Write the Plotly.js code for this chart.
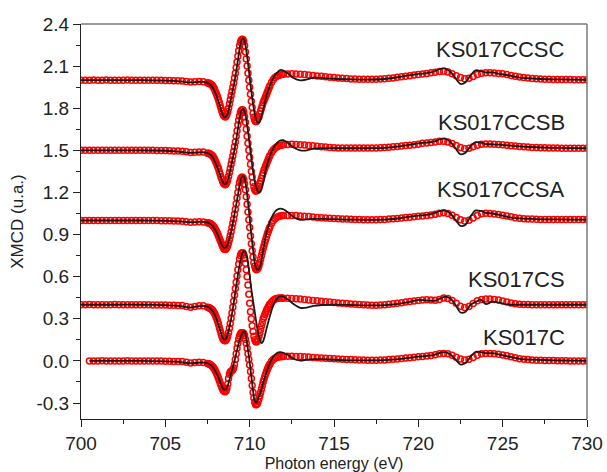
<!DOCTYPE html>
<html>
<head>
<meta charset="utf-8">
<script src="https://cdn.plot.ly/plotly-3.0.1.min.js"></script>
<style>
html,body{margin:0;padding:0;background:#fff;}
#chart{width:607px;height:472px;}
</style>
</head>
<body>
<div id="chart"></div>
<script>
// ---------- DATA ----------
const samples = ['KS017C', 'KS017CS', 'KS017CCSA', 'KS017CCSB', 'KS017CCSC'];
const offsets = [0.0, 0.4, 1.0, 1.5, 2.0];

// energy grid of the simulated (black) curves, eV
const simEnergy = [
  700, 700.5, 702, 703.5, 705, 705.5, 706, 706.5, 707, 707.3, 707.6, 707.8,
  708.0, 708.1, 708.2, 708.3, 708.4, 708.5, 708.6, 708.7, 708.8, 708.9,
  709.0, 709.1, 709.2, 709.3, 709.4, 709.5, 709.6, 709.7, 709.8, 709.9,
  710.0, 710.1, 710.2, 710.3, 710.4, 710.5, 710.6, 710.7, 710.8, 710.9,
  711.0, 711.2, 711.4, 711.6, 711.8, 712.0, 712.3, 712.6, 713.0, 713.4, 713.8, 714.3,
  715, 716, 717, 718, 719, 719.5, 720, 720.5, 721, 721.3, 721.6, 721.9,
  722.2, 722.5, 722.8, 723.1, 723.4, 723.7, 724.0, 724.4, 724.8, 725.3, 726, 727, 728, 729, 730
];

// simulated XMCD (black lines), relative to each offset
const simC = [
  null, 0, 0, 0, -0.003, -0.005, -0.01, -0.018, -0.013, -0.012, -0.022, -0.042,
  -0.08, -0.105, -0.135, -0.165, -0.195, -0.207, -0.2, -0.175, -0.135, -0.09,
  -0.045, 0, 0.05, 0.1, 0.145, 0.18, 0.205, 0.21, 0.16, 0.08,
  -0.01, -0.11, -0.21, -0.285, -0.298, -0.27, -0.24, -0.2, -0.16, -0.12,
  -0.08, -0.015, 0.03, 0.055, 0.062, 0.058, 0.04, 0.015, 0.002, 0.008, 0.012, 0.012,
  0.008, 0.004, 0.004, 0.006, 0.015, 0.022, 0.03, 0.035, 0.045, 0.058, 0.062, 0.045,
  0.01, -0.026, -0.015, 0.03, 0.065, 0.062, 0.055, 0.055, 0.045, 0.032, 0.015, 0.008, 0.004, 0.002, 0
];
const simCS = [
  0, 0, 0, 0, -0.003, -0.006, -0.012, -0.02, -0.01, -0.008, -0.02, -0.045,
  -0.09, -0.125, -0.16, -0.2, -0.235, -0.249, -0.24, -0.21, -0.16, -0.1,
  -0.03, 0.05, 0.13, 0.21, 0.28, 0.34, 0.375, 0.384, 0.36, 0.3,
  0.21, 0.11, 0.03, -0.05, -0.13, -0.2, -0.25, -0.274, -0.26, -0.22,
  -0.17, -0.08, -0.005, 0.04, 0.06, 0.058, 0.035, 0.005, -0.022, -0.02, -0.008, -0.002,
  0, -0.002, -0.004, -0.003, 0.01, 0.02, 0.035, 0.03, 0.028, 0.045, 0.058, 0.045,
  0, -0.055, -0.05, 0, 0.02, 0.036, 0.005, 0.022, 0.015, 0.002, 0, 0, 0, 0, 0
];
const simCCSA = [
  0, 0, 0, 0, -0.002, -0.004, -0.008, -0.012, -0.01, -0.01, -0.02, -0.04,
  -0.075, -0.1, -0.13, -0.16, -0.185, -0.195, -0.19, -0.17, -0.13, -0.08,
  -0.02, 0.045, 0.11, 0.18, 0.25, 0.3, 0.32, 0.3, 0.23, 0.13,
  0.02, -0.1, -0.21, -0.3, -0.345, -0.35, -0.33, -0.28, -0.21, -0.15,
  -0.09, -0.01, 0.045, 0.075, 0.085, 0.08, 0.055, 0.025, 0.005, 0.008, 0.012, 0.012,
  0.01, 0.006, 0.005, 0.007, 0.018, 0.028, 0.035, 0.04, 0.055, 0.068, 0.07, 0.05,
  0.005, -0.038, -0.03, 0.03, 0.072, 0.068, 0.055, 0.05, 0.04, 0.025, 0.015, 0.01, 0.008, 0.007, 0.007
];
const simCCSB = [
  0, 0, 0, 0, -0.003, -0.006, -0.012, -0.018, -0.014, -0.014, -0.025, -0.048,
  -0.095, -0.125, -0.16, -0.195, -0.225, -0.242, -0.237, -0.215, -0.17, -0.115,
  -0.055, 0.005, 0.07, 0.15, 0.225, 0.28, 0.297, 0.28, 0.22, 0.135,
  0.04, -0.06, -0.15, -0.22, -0.27, -0.295, -0.3, -0.28, -0.23, -0.17,
  -0.115, -0.04, 0.015, 0.05, 0.07, 0.072, 0.05, 0.02, 0.0, 0.0, 0.012, 0.015,
  0.015, 0.015, 0.015, 0.018, 0.03, 0.04, 0.05, 0.055, 0.065, 0.08, 0.083, 0.06,
  0.015, -0.028, -0.018, 0.03, 0.058, 0.055, 0.045, 0.043, 0.04, 0.035, 0.028, 0.022, 0.018, 0.016, 0.015
];
const simCCSC = [
  0, 0, 0, 0, -0.003, -0.005, -0.01, -0.016, -0.012, -0.013, -0.025, -0.05,
  -0.1, -0.135, -0.17, -0.21, -0.245, -0.264, -0.258, -0.24, -0.19, -0.13,
  -0.07, -0.01, 0.06, 0.14, 0.22, 0.28, 0.3, 0.28, 0.21, 0.12,
  0.02, -0.08, -0.17, -0.24, -0.29, -0.305, -0.295, -0.26, -0.21, -0.16,
  -0.11, -0.04, 0.015, 0.05, 0.072, 0.068, 0.045, 0.015, -0.002, 0.005, 0.018, 0.016,
  0.01, 0.006, 0.004, 0.008, 0.025, 0.035, 0.045, 0.05, 0.065, 0.08, 0.082, 0.06,
  0.015, -0.027, -0.015, 0.035, 0.07, 0.065, 0.055, 0.055, 0.045, 0.035, 0.018, 0.01, 0.006, 0.004, 0.003
];

// energy grid of the measured (red) data, eV
const expEnergy = [
  700, 700.25, 700.5, 700.75, 701, 701.25, 701.5, 701.75,
  702, 702.25, 702.5, 702.75, 703, 703.25, 703.5, 703.75,
  704, 704.25, 704.5, 704.75, 705, 705.25, 705.5, 705.75,
  706, 706.25, 706.5, 706.75, 707, 707.25, 707.5,
  707.55, 707.6, 707.65, 707.7, 707.75, 707.8, 707.85, 707.9, 707.95, 708,
  708.05, 708.1, 708.15, 708.2, 708.25, 708.3, 708.35, 708.4, 708.45, 708.5,
  708.55, 708.6, 708.65, 708.7, 708.75, 708.8, 708.85, 708.9, 708.95, 709,
  709.05, 709.1, 709.15, 709.2, 709.25, 709.3, 709.35, 709.4, 709.45, 709.5,
  709.55, 709.6, 709.65, 709.7, 709.75, 709.8, 709.85, 709.9, 709.95, 710,
  710.05, 710.1, 710.15, 710.2, 710.25, 710.3, 710.35, 710.4, 710.45, 710.5,
  710.55, 710.6, 710.65, 710.7, 710.75, 710.8, 710.85, 710.9, 710.95, 711,
  711.05, 711.1, 711.15, 711.2,
  711.3, 711.4, 711.5, 711.6, 711.7, 711.8, 711.9, 712,
  712.25, 712.5, 712.75, 713, 713.25, 713.5, 713.75, 714,
  714.25, 714.5, 714.75, 715, 715.25, 715.5, 715.75, 716,
  716.25, 716.5, 716.75, 717, 717.25, 717.5, 717.75, 718,
  718.25, 718.5, 718.75, 719, 719.25, 719.5, 719.75, 720,
  720.25, 720.5, 720.75, 721, 721.25, 721.5, 721.75, 722,
  722.25, 722.5, 722.75, 723, 723.25, 723.5, 723.75, 724,
  724.25, 724.5, 724.75, 725, 725.25, 725.5, 725.75, 726,
  726.25, 726.5, 726.75, 727, 727.25, 727.5, 727.75, 728,
  728.25, 728.5, 728.75, 729, 729.25, 729.5, 729.75, 730
];

// measured XMCD (red open circles), relative to each offset
const expC = [
  null, null, 0, 0, 0, 0.001, 0, 0,
  0, 0, 0, 0.001, 0, 0, 0, 0,
  0, 0, -0.001, -0.001, -0.002, -0.003, -0.004, -0.005,
  -0.005, -0.01, -0.015, -0.012, -0.01, -0.011, -0.018,
  -0.02, -0.022, -0.025, -0.029, -0.034, -0.04, -0.047, -0.056, -0.067, -0.08,
  -0.094, -0.108, -0.124, -0.14, -0.157, -0.174, -0.19, -0.203, -0.213, -0.218,
  -0.219, -0.212, -0.195, -0.165, -0.125, -0.095, -0.08, -0.073, -0.07, -0.064,
  -0.05, -0.025, 0.01, 0.05, 0.09, 0.125, 0.155, 0.178, 0.192, 0.2,
  0.2, 0.2, 0.195, 0.18, 0.155, 0.125, 0.09, 0.05, 0.01, -0.03,
  -0.075, -0.125, -0.175, -0.225, -0.265, -0.295, -0.31, -0.312, -0.305, -0.29,
  -0.27, -0.25, -0.225, -0.2, -0.175, -0.15, -0.13, -0.11, -0.092, -0.076,
  -0.06, -0.046, -0.033, -0.022,
  -0.003, 0.01, 0.018, 0.024, 0.028, 0.03, 0.031, 0.032,
  0.033, 0.033, 0.032, 0.031, 0.029, 0.027, 0.025, 0.023,
  0.021, 0.019, 0.017, 0.015, 0.013, 0.011, 0.01, 0.009,
  0.008, 0.007, 0.006, 0.005, 0.005, 0.005, 0.006, 0.007,
  0.009, 0.011, 0.014, 0.017, 0.02, 0.023, 0.026, 0.029,
  0.032, 0.035, 0.039, 0.044, 0.05, 0.053, 0.05, 0.04,
  0.026, 0.013, 0.007, 0.012, 0.025, 0.04, 0.05, 0.053,
  0.053, 0.051, 0.047, 0.042, 0.036, 0.029, 0.022, 0.016,
  0.012, 0.009, 0.007, 0.005, 0.004, 0.003, 0.002, 0.002,
  0.001, 0.001, 0.001, 0, 0, 0, 0, 0
];
const expCS = [
  0, 0, 0.001, 0, 0, 0, 0, 0,
  0.001, 0, 0, 0, 0, 0, 0, 0,
  0, -0.001, -0.001, -0.002, -0.002, -0.003, -0.004, -0.005,
  -0.006, -0.012, -0.018, -0.012, -0.008, -0.008, -0.018,
  -0.02, -0.022, -0.025, -0.029, -0.034, -0.04, -0.048, -0.058, -0.07, -0.085,
  -0.1, -0.118, -0.138, -0.16, -0.182, -0.204, -0.224, -0.24, -0.25, -0.255,
  -0.256, -0.252, -0.24, -0.222, -0.198, -0.168, -0.134, -0.097, -0.058, -0.018,
  0.025, 0.07, 0.115, 0.16, 0.205, 0.25, 0.29, 0.325, 0.35, 0.365,
  0.37, 0.368, 0.355, 0.33, 0.295, 0.25, 0.2, 0.14, 0.075, 0.01,
  -0.05, -0.1, -0.15, -0.19, -0.225, -0.25, -0.262, -0.265, -0.26, -0.245,
  -0.225, -0.2, -0.175, -0.15, -0.125, -0.1, -0.085, -0.07, -0.055, -0.04,
  -0.028, -0.016, -0.005, 0.005,
  0.02, 0.032, 0.04, 0.045, 0.047, 0.048, 0.048, 0.047,
  0.046, 0.044, 0.042, 0.04, 0.037, 0.034, 0.031, 0.028,
  0.025, 0.022, 0.019, 0.016, 0.013, 0.01, 0.008, 0.006,
  0.004, 0.002, 0, -0.002, -0.003, -0.003, -0.002, 0,
  0.003, 0.007, 0.011, 0.015, 0.019, 0.023, 0.027, 0.031,
  0.034, 0.035, 0.033, 0.032, 0.038, 0.048, 0.045, 0.03,
  0.01, -0.01, -0.02, -0.012, 0.008, 0.028, 0.038, 0.04,
  0.04, 0.038, 0.033, 0.026, 0.019, 0.012, 0.007, 0.004,
  0.002, 0.001, 0, 0, 0, 0, 0, 0,
  0, 0, 0, 0, 0, 0, 0, 0
];
const expCCSA = [
  0, 0, 0, 0, 0, 0.001, 0, 0,
  0, 0, 0, 0, 0.001, 0, 0, 0,
  0, 0, 0, -0.001, -0.001, -0.002, -0.003, -0.004,
  -0.005, -0.008, -0.012, -0.01, -0.009, -0.01, -0.016,
  -0.017, -0.019, -0.021, -0.024, -0.028, -0.033, -0.04, -0.048, -0.058, -0.07,
  -0.082, -0.095, -0.11, -0.125, -0.14, -0.155, -0.17, -0.185, -0.197, -0.205,
  -0.207, -0.203, -0.193, -0.178, -0.158, -0.135, -0.108, -0.08, -0.05, -0.02,
  0.01, 0.045, 0.08, 0.12, 0.16, 0.2, 0.24, 0.27, 0.29, 0.305,
  0.31, 0.305, 0.29, 0.26, 0.22, 0.17, 0.115, 0.06, 0.005, -0.05,
  -0.11, -0.165, -0.215, -0.26, -0.3, -0.325, -0.343, -0.35, -0.348, -0.338,
  -0.322, -0.3, -0.275, -0.25, -0.225, -0.2, -0.178, -0.155, -0.135, -0.115,
  -0.095, -0.078, -0.062, -0.047,
  -0.02, 0, 0.013, 0.022, 0.028, 0.032, 0.034, 0.035,
  0.036, 0.036, 0.035, 0.033, 0.031, 0.028, 0.025, 0.022,
  0.02, 0.018, 0.016, 0.014, 0.012, 0.011, 0.01, 0.009,
  0.008, 0.007, 0.006, 0.006, 0.006, 0.006, 0.007, 0.008,
  0.01, 0.012, 0.015, 0.018, 0.021, 0.024, 0.027, 0.03,
  0.033, 0.036, 0.04, 0.045, 0.052, 0.055, 0.05, 0.038,
  0.022, 0.006, -0.004, 0.002, 0.018, 0.036, 0.048, 0.052,
  0.05, 0.047, 0.043, 0.038, 0.032, 0.026, 0.02, 0.016,
  0.013, 0.011, 0.01, 0.009, 0.008, 0.008, 0.007, 0.007,
  0.007, 0.007, 0.007, 0.007, 0.007, 0.007, 0.007, 0.007
];
const expCCSB = [
  0, 0, 0, 0, 0.001, 0, 0, 0,
  0, 0.001, 0, 0, 0, 0, 0, 0,
  0, 0, -0.001, -0.001, -0.002, -0.003, -0.004, -0.005,
  -0.006, -0.01, -0.015, -0.013, -0.011, -0.012, -0.02,
  -0.021, -0.023, -0.026, -0.03, -0.035, -0.04, -0.048, -0.058, -0.07, -0.085,
  -0.1, -0.115, -0.13, -0.15, -0.17, -0.19, -0.205, -0.222, -0.235, -0.242,
  -0.245, -0.24, -0.228, -0.21, -0.185, -0.158, -0.13, -0.1, -0.07, -0.04,
  -0.008, 0.025, 0.06, 0.1, 0.14, 0.18, 0.215, 0.245, 0.27, 0.283,
  0.29, 0.288, 0.272, 0.24, 0.2, 0.15, 0.1, 0.05, 0, -0.05,
  -0.1, -0.15, -0.19, -0.23, -0.26, -0.28, -0.29, -0.29, -0.282, -0.27,
  -0.255, -0.238, -0.22, -0.2, -0.18, -0.16, -0.14, -0.125, -0.11, -0.095,
  -0.08, -0.065, -0.05, -0.037,
  -0.015, 0.003, 0.015, 0.024, 0.03, 0.035, 0.038, 0.04,
  0.042, 0.043, 0.042, 0.04, 0.038, 0.035, 0.032, 0.029,
  0.026, 0.023, 0.02, 0.018, 0.017, 0.016, 0.016, 0.016,
  0.016, 0.016, 0.016, 0.016, 0.016, 0.017, 0.018, 0.02,
  0.022, 0.025, 0.028, 0.031, 0.034, 0.037, 0.04, 0.044,
  0.05, 0.053, 0.056, 0.06, 0.064, 0.065, 0.06, 0.048,
  0.034, 0.02, 0.012, 0.015, 0.025, 0.037, 0.044, 0.046,
  0.046, 0.044, 0.042, 0.039, 0.036, 0.033, 0.03, 0.027,
  0.025, 0.023, 0.021, 0.02, 0.019, 0.018, 0.017, 0.016,
  0.016, 0.015, 0.015, 0.015, 0.014, 0.014, 0.014, 0.014
];
const expCCSC = [
  0, 0, 0, 0.001, 0, 0, 0.001, 0,
  0, 0, 0, 0.001, 0, 0, 0, 0,
  0, 0, -0.001, -0.001, -0.002, -0.003, -0.004, -0.005,
  -0.006, -0.01, -0.014, -0.012, -0.01, -0.012, -0.02,
  -0.02, -0.022, -0.025, -0.03, -0.035, -0.04, -0.05, -0.06, -0.075, -0.09,
  -0.105, -0.12, -0.14, -0.16, -0.18, -0.2, -0.22, -0.238, -0.25, -0.258,
  -0.262, -0.258, -0.245, -0.225, -0.2, -0.17, -0.14, -0.11, -0.08, -0.05,
  -0.02, 0.015, 0.05, 0.09, 0.13, 0.17, 0.21, 0.245, 0.27, 0.285,
  0.292, 0.29, 0.275, 0.245, 0.2, 0.15, 0.1, 0.05, 0, -0.05,
  -0.1, -0.15, -0.195, -0.235, -0.265, -0.285, -0.295, -0.295, -0.285, -0.27,
  -0.26, -0.24, -0.22, -0.2, -0.18, -0.16, -0.145, -0.13, -0.115, -0.1,
  -0.085, -0.07, -0.055, -0.04,
  -0.015, 0.005, 0.018, 0.027, 0.033, 0.037, 0.04, 0.042,
  0.044, 0.045, 0.044, 0.042, 0.04, 0.037, 0.034, 0.03,
  0.027, 0.024, 0.021, 0.018, 0.015, 0.013, 0.011, 0.009,
  0.008, 0.007, 0.006, 0.006, 0.006, 0.007, 0.008, 0.01,
  0.013, 0.016, 0.02, 0.024, 0.028, 0.032, 0.036, 0.04,
  0.043, 0.047, 0.052, 0.056, 0.062, 0.063, 0.058, 0.046,
  0.032, 0.018, 0.01, 0.014, 0.026, 0.041, 0.05, 0.052,
  0.053, 0.051, 0.048, 0.045, 0.04, 0.034, 0.028, 0.022,
  0.018, 0.015, 0.012, 0.01, 0.008, 0.007, 0.006, 0.005,
  0.005, 0.004, 0.004, 0.004, 0.003, 0.003, 0.003, 0.003
];

const yTickVals = [-0.3, 0.0, 0.3, 0.6, 0.9, 1.2, 1.5, 1.8, 2.1, 2.4];
const yTickText = ['-0.3', '0.0', '0.3', '0.6', '0.9', '1.2', '1.5', '1.8', '2.1', '2.4'];
const xTickVals = [700, 705, 710, 715, 720, 725, 730];
const xTickText = ['700', '705', '710', '715', '720', '725', '730'];

// ---------- CHART ----------
const simSeries = [simC, simCS, simCCSA, simCCSB, simCCSC];
const expSeries = [expC, expCS, expCCSA, expCCSB, expCCSC];

simSeries.forEach((s, i) => {
  if (s.length !== simEnergy.length) throw new Error('sim length mismatch ' + samples[i] + ' ' + s.length);
});
expSeries.forEach((s, i) => {
  if (s.length !== expEnergy.length) throw new Error('exp length mismatch ' + samples[i] + ' ' + s.length);
});

const shift = (arr, off) => arr.map(v => (v === null ? null : v + off));

const FONT = '"Liberation Sans", Arial, Helvetica, sans-serif';
const traces = [];
samples.forEach((name, i) => {
  traces.push({
    type: 'scatter', mode: 'markers', name: name + ' exp',
    x: expEnergy, y: shift(expSeries[i], offsets[i]),
    marker: {symbol: 'circle-open', size: 6, color: '#ff0000', line: {width: 1.5, color: '#ff0000'}},
    showlegend: false, hoverinfo: 'skip'
  });
});
samples.forEach((name, i) => {
  traces.push({
    type: 'scatter', mode: 'lines', name: name + ' sim',
    x: simEnergy, y: shift(simSeries[i], offsets[i]),
    line: {color: '#1a1a1a', width: 1.8, shape: 'spline', smoothing: 0.8},
    connectgaps: false, showlegend: false, hoverinfo: 'skip'
  });
});

const labelPos = [
  {x: 728.8, y: 0.17},
  {x: 728.8, y: 0.577},
  {x: 728.8, y: 1.219},
  {x: 728.8, y: 1.696},
  {x: 728.8, y: 2.216}
];

const layout = {
  width: 607, height: 472,
  margin: {l: 81, r: 20, t: 24, b: 53},
  paper_bgcolor: '#ffffff', plot_bgcolor: '#ffffff',
  font: {family: FONT, color: '#222222'},
  showlegend: false,
  xaxis: {
    range: [700, 730],
    tickmode: 'array', tickvals: xTickVals, ticktext: xTickText,
    ticks: 'outside', ticklen: 7, tickwidth: 1, tickcolor: '#222',
    minor: {tickmode: 'linear', tick0: 700, dtick: 2.5, ticks: 'outside', ticklen: 4, tickwidth: 1, tickcolor: '#222', showgrid: false},
    showline: true, linecolor: '#222', linewidth: 1, mirror: false,
    showgrid: false, zeroline: false,
    tickfont: {family: FONT, size: 19, color: '#222'},
    title: {text: 'Photon energy (eV)', font: {family: FONT, size: 16, color: '#222'}, standoff: 11}
  },
  yaxis: {
    range: [-0.414, 2.4],
    tickmode: 'array', tickvals: yTickVals, ticktext: yTickText,
    ticks: 'outside', ticklen: 7, tickwidth: 1, tickcolor: '#222',
    minor: {tickmode: 'linear', tick0: 0, dtick: 0.15, ticks: 'outside', ticklen: 4, tickwidth: 1, tickcolor: '#222', showgrid: false},
    showline: true, linecolor: '#222', linewidth: 1, mirror: false,
    showgrid: false, zeroline: false,
    tickfont: {family: FONT, size: 19, color: '#222'},
    title: {text: 'XMCD (u.a.)', font: {family: FONT, size: 17, color: '#222'}, standoff: 8}
  },
  shapes: [
    {type: 'line', xref: 'paper', yref: 'paper', x0: 0, x1: 1, y0: 1, y1: 1, line: {color: '#7a7a7a', width: 1.5}},
    {type: 'line', xref: 'paper', yref: 'paper', x0: 1, x1: 1, y0: 0, y1: 1, line: {color: '#7a7a7a', width: 1.5}}
  ],
  annotations: samples.map((name, i) => ({
    text: name, x: labelPos[i].x, y: labelPos[i].y, xref: 'x', yref: 'y',
    xanchor: 'right', yanchor: 'middle', showarrow: false,
    font: {family: FONT, size: 22, color: '#222'}
  }))
};

Plotly.newPlot('chart', traces, layout, {displayModeBar: false, staticPlot: true});
</script>
</body>
</html>
